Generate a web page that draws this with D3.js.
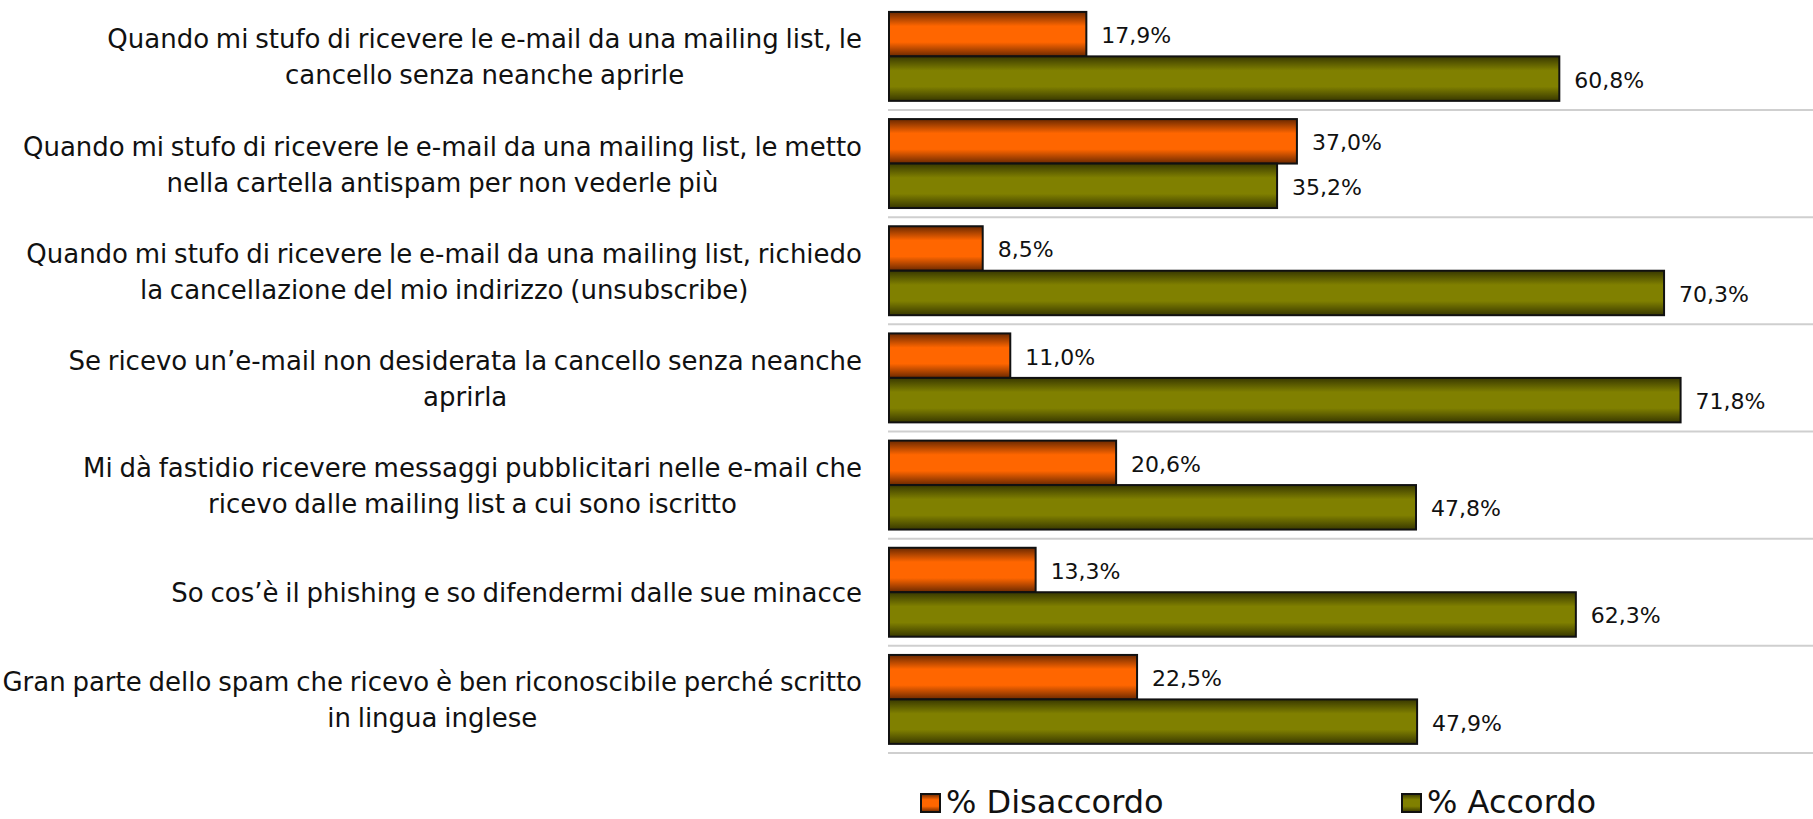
<!DOCTYPE html>
<html>
<head>
<meta charset="utf-8">
<script src="https://cdn.jsdelivr.net/npm/d3@7"></script>
<style>
  html, body { margin: 0; padding: 0; background: #fff; }
  svg { display: block; }
</style>
</head>
<body>
<svg id="chart" width="1813" height="819"></svg>
<script>
// Survey statements (each split into display lines)
const categories = [
  ["Quando mi stufo di ricevere le e-mail da una mailing list, le", "cancello senza neanche aprirle"],
  ["Quando mi stufo di ricevere le e-mail da una mailing list, le metto", "nella cartella antispam per non vederle più"],
  ["Quando mi stufo di ricevere le e-mail da una mailing list, richiedo", "la cancellazione del mio indirizzo (unsubscribe)"],
  ["Se ricevo un’e-mail non desiderata la cancello senza neanche", "aprirla"],
  ["Mi dà fastidio ricevere messaggi pubblicitari nelle e-mail che", "ricevo dalle mailing list a cui sono iscritto"],
  ["So cos’è il phishing e so difendermi dalle sue minacce"],
  ["Gran parte dello spam che ricevo è ben riconoscibile perché scritto", "in lingua inglese"]
];
const seriesNames = ["% Disaccordo", "% Accordo"];
const disaccordo = [17.9, 37.0, 8.5, 11.0, 20.6, 13.3, 22.5];
const accordo = [60.8, 35.2, 70.3, 71.8, 47.8, 62.3, 47.9];

const W = 1813, H = 819;
const svg = d3.select("#chart");

const rows = categories.map((lines, i) => ({ i, lines, values: [disaccordo[i], accordo[i]] }));

// Gradients for the bar fills
const defs = svg.append("defs");
const palette = [
  { id: "gOrange", edge: "#6a2800", mid: "#ff6600" },
  { id: "gOlive", edge: "#383800", mid: "#808000" }
];
palette.forEach(p => {
  const g = defs.append("linearGradient").attr("id", p.id)
    .attr("x1", 0).attr("y1", 0).attr("x2", 0).attr("y2", 1);
  g.append("stop").attr("offset", "0%").attr("stop-color", p.edge);
  g.append("stop").attr("offset", "32%").attr("stop-color", p.mid);
  g.append("stop").attr("offset", "68%").attr("stop-color", p.mid);
  g.append("stop").attr("offset", "100%").attr("stop-color", p.edge);
});

// Scales
const y = d3.scaleBand()
  .domain(rows.map(d => d.i))
  .range([2.8, 753])
  .paddingInner(0.17)
  .paddingOuter(0.085);
const ySub = d3.scaleBand().domain([0, 1]).range([0, y.bandwidth()]).padding(0);
const x = d3.scaleLinear().domain([0, 80]).range([889, 1771]);

// Separator lines between categories
const step = y.step();
const sepY = rows.map(d => y(d.i) - y.paddingOuter() * step + step);
svg.append("g").selectAll("line").data(sepY).join("line")
  .attr("x1", x(0) - 1).attr("x2", W)
  .attr("y1", d => d).attr("y2", d => d)
  .attr("stroke", "#cfcfcf").attr("stroke-width", 2);

// Bars
const fmt = v => d3.format(".1f")(v).replace(".", ",") + "%";
const groups = svg.append("g").selectAll("g").data(rows).join("g")
  .attr("transform", d => `translate(0,${y(d.i)})`);

groups.selectAll("rect").data(d => d.values.map((v, k) => ({ v, k }))).join("rect")
  .attr("x", x(0))
  .attr("y", d => ySub(d.k))
  .attr("width", d => x(d.v) - x(0))
  .attr("height", ySub.bandwidth())
  .attr("fill", d => `url(#${palette[d.k].id})`)
  .attr("stroke", "#111")
  .attr("stroke-width", 2);

groups.selectAll("text.val").data(d => d.values.map((v, k) => ({ v, k }))).join("text")
  .attr("class", "val")
  .attr("x", d => x(d.v) + 15)
  .attr("y", d => ySub(d.k) + ySub.bandwidth() / 2 + 9)
  .attr("font-family", "'DejaVu Sans', sans-serif")
  .attr("font-size", 22)
  .attr("fill", "#111")
  .text(d => fmt(d.v));

// Category labels: lines centred on each other, block right-aligned
const labelRight = 862;
const lineH = 36;
const labels = svg.append("g")
  .attr("font-family", "'DejaVu Sans', sans-serif")
  .attr("font-size", 26)
  .attr("word-spacing", -1.5)
  .attr("fill", "#111");
rows.forEach(d => {
  const cy = y(d.i) + y.bandwidth() / 2;
  const g = labels.append("g");
  const n = d.lines.length;
  const texts = d.lines.map((line, j) => g.append("text")
    .attr("text-anchor", "middle")
    .attr("y", cy + (j - (n - 1) / 2) * lineH + 10)
    .text(line));
  const maxW = d3.max(texts, t => t.node().getBBox().width);
  texts.forEach(t => t.attr("x", labelRight - maxW / 2));
});

// Legend
const legendItems = [
  { name: seriesNames[0], k: 0, x: 921 },
  { name: seriesNames[1], k: 1, x: 1402 }
];
const leg = svg.append("g").selectAll("g").data(legendItems).join("g")
  .attr("transform", d => `translate(${d.x},794)`);
leg.append("rect")
  .attr("width", 19).attr("height", 18)
  .attr("fill", d => `url(#${palette[d.k].id})`)
  .attr("stroke", "#111").attr("stroke-width", 2);
leg.append("text")
  .attr("x", 25).attr("y", 18.5)
  .attr("font-family", "'DejaVu Sans', sans-serif")
  .attr("font-size", 32)
  .attr("fill", "#111")
  .text(d => d.name);
</script>
</body>
</html>
